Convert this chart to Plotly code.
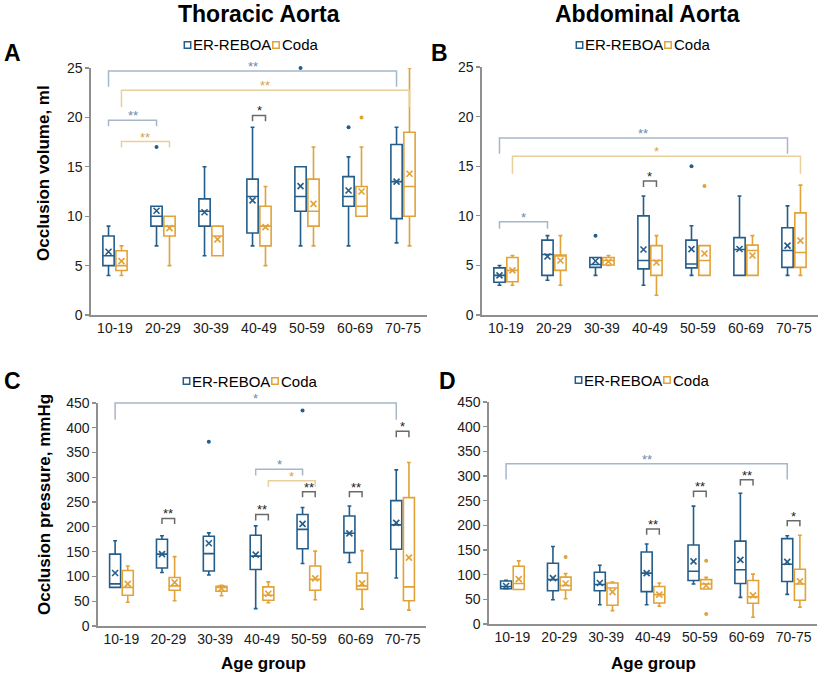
import plotly.graph_objects as go

groups = ["10-19", "20-29", "30-39", "40-49", "50-59", "60-69", "70-75"]
series_names = ["ER-REBOA", "Coda"]

# ---------------- Panel A: Thoracic aorta, occlusion volume (ml) ----------------
a_reboa_low = [4, 7, 6, 7, 7, 7, 7.3]
a_reboa_q1 = [5, 9, 9, 8.3, 10.5, 11, 9.75]
a_reboa_med = [6, 10, 10.5, 12, 12, 12, 13.5]
a_reboa_q3 = [8, 11, 11.75, 13.75, 15, 14, 17.25]
a_reboa_up = [9, 11, 15, 19, 15, 16, 19]
a_reboa_mean = [6.4, 10.55, 10.4, 11.6, 13.05, 12.6, 13.5]
a_reboa_out_grp = [1, 4, 5]
a_reboa_out_val = [17, 25, 19]

a_coda_low = [4, 5, 6, 5, 7, 10, 7]
a_coda_q1 = [4.5, 8, 6, 7, 9, 10, 10]
a_coda_med = [5, 9, 8, 9, 10.5, 11, 13]
a_coda_q3 = [6.5, 10, 9, 11, 13.75, 13, 18.5]
a_coda_up = [7, 10, 9, 13, 17, 17, 25]
a_coda_mean = [5.45, 8.8, 7.65, 8.9, 11.25, 12.5, 14.3]
a_coda_out_grp = [5]
a_coda_out_val = [20]

# ---------------- Panel B: Abdominal aorta, occlusion volume (ml) ----------------
b_reboa_low = [3, 3.5, 4, 3, 4, 4, 4]
b_reboa_q1 = [3.3, 4, 4.8, 4.65, 4.75, 4, 4.8]
b_reboa_med = [4, 6.1, 5.1, 5.5, 5.15, 6.6, 6.5]
b_reboa_q3 = [4.75, 7.55, 5.8, 10, 7.55, 7.8, 8.8]
b_reboa_up = [5, 8, 5.8, 12, 9, 12, 11]
b_reboa_mean = [4, 5.9, 5.45, 6.6, 6.64, 6.65, 7]
b_reboa_out_grp = [2, 4]
b_reboa_out_val = [8, 15]

b_coda_low = [3, 3, 5, 2, 4, 4, 4]
b_coda_q1 = [3.35, 4.5, 5.05, 4, 4, 4, 4.8]
b_coda_med = [4.5, 6, 5.5, 5.5, 5.5, 6.5, 6.3]
b_coda_q3 = [5.8, 6.05, 5.8, 7, 7, 7.05, 10.3]
b_coda_up = [6, 8, 6, 8, 7, 8, 13.1]
b_coda_mean = [4.5, 5.5, 5.4, 5.3, 6.2, 6.0, 7.5]
b_coda_out_grp = [4]
b_coda_out_val = [13]

# ---------------- Panel C: Thoracic aorta, occlusion pressure (mmHg) ----------------
c_reboa_low = [78, 108, 103, 35, 126, 128, 97]
c_reboa_q1 = [78, 117, 111, 114, 156, 148, 155]
c_reboa_med = [85, 145, 146, 141, 195, 187, 204]
c_reboa_q3 = [145, 175, 181, 183, 225, 222, 253]
c_reboa_up = [172, 182, 188, 202, 239, 242, 315]
c_reboa_mean = [107, 145, 167, 144, 206, 187, 208]
c_reboa_out_grp = [2, 4]
c_reboa_out_val = [372, 435]

c_coda_low = [48, 51, 61, 47, 53, 34, 32]
c_coda_q1 = [62, 72, 70, 52, 72, 74, 51]
c_coda_med = [78, 81, 78, 62, 94, 81, 79]
c_coda_q3 = [112, 98, 80, 79, 121, 107, 259]
c_coda_up = [121, 140, 82, 89, 151, 152, 330]
c_coda_mean = [85, 88, 76, 65, 96, 86, 138]
c_coda_out_grp = []
c_coda_out_val = []

# ---------------- Panel D: Abdominal aorta, occlusion pressure (mmHg) ----------------
d_reboa_low = [71, 49, 39, 39, 81, 54, 60]
d_reboa_q1 = [71.5, 67.5, 67.5, 65.5, 88, 82, 86]
d_reboa_med = [76, 90, 80, 103, 107, 110, 121]
d_reboa_q3 = [87, 123, 105, 146, 160, 168, 173]
d_reboa_up = [88.5, 157, 119, 162, 239, 265, 179]
d_reboa_mean = [77, 93, 83, 103, 127, 130, 126]
d_reboa_out_grp = []
d_reboa_out_val = []

d_coda_low = [70, 51, 27, 36, 71, 13.5, 34]
d_coda_q1 = [70, 69, 38, 42.5, 71, 42, 48]
d_coda_med = [82, 78, 73, 59.5, 81, 55, 81]
d_coda_q3 = [117, 95, 83, 76, 90, 88, 111]
d_coda_up = [128, 102, 85, 83, 94.5, 101, 180]
d_coda_mean = [91, 82, 65, 59.5, 78, 58, 86.5]
d_coda_out_grp = [1, 4, 4]
d_coda_out_val = [136, 128, 20]

# Significance brackets: (series, from group, to group, height, drop, label)
a_brackets = [("reboa", 0, 6, 24.7, 1.6, "**"), ("coda", 0, 6, 22.75, 1.7, "**"),
              ("reboa", 0, 1, 19.7, 0.6, "**"), ("coda", 0, 1, 17.55, 0.6, "**"),
              ("pair", 3, 3, 20.2, 0.6, "*")]
b_brackets = [("reboa", 0, 6, 17.85, 1.6, "**"), ("coda", 0, 6, 16.0, 1.75, "*"),
              ("reboa", 0, 1, 9.4, 0.7, "*"), ("pair", 3, 3, 13.5, 0.6, "*")]
c_brackets = [("reboa", 0, 6, 450, 34, "*"), ("reboa", 3, 4, 316.5, 13, "*"),
              ("coda", 3, 4, 293, 12, "*"), ("pair", 1, 1, 217, 11, "**"),
              ("pair", 3, 3, 225, 12, "**"), ("pair", 4, 4, 271, 11, "**"),
              ("pair", 5, 5, 271, 11, "**"), ("pair", 6, 6, 393, 12, "*")]
d_brackets = [("reboa", 0, 6, 325, 32, "**"), ("pair", 3, 3, 192.6, 11.6, "**"),
              ("pair", 4, 4, 269, 12, "**"), ("pair", 5, 5, 292.6, 11.6, "**"),
              ("pair", 6, 6, 209.5, 11.5, "*")]

BLUE = "#245d8a"
ORANGE = "#e2a238"
BR_COL = {"reboa": ("#a6b7c9", "#6e89a8"), "coda": ("#e9cf9c", "#d7a24a"), "pair": ("#6a6a6a", "#222222")}
FONT = "Liberation Sans, Arial, sans-serif"
OFF = 0.135
BW = 0.235
W, H = 825, 675

panels = [
    dict(name="A", ax="", ymax=25, dtick=5, xd=[0.1103, 0.5176], yd=[0.5333, 0.8993],
         reboa=(a_reboa_low, a_reboa_q1, a_reboa_med, a_reboa_q3, a_reboa_up, a_reboa_mean, a_reboa_out_grp, a_reboa_out_val),
         coda=(a_coda_low, a_coda_q1, a_coda_med, a_coda_q3, a_coda_up, a_coda_mean, a_coda_out_grp, a_coda_out_val),
         br=a_brackets),
    dict(name="B", ax="2", ymax=25, dtick=5, xd=[0.5842, 0.9915], yd=[0.5333, 0.9007],
         reboa=(b_reboa_low, b_reboa_q1, b_reboa_med, b_reboa_q3, b_reboa_up, b_reboa_mean, b_reboa_out_grp, b_reboa_out_val),
         coda=(b_coda_low, b_coda_q1, b_coda_med, b_coda_q3, b_coda_up, b_coda_mean, b_coda_out_grp, b_coda_out_val),
         br=b_brackets),
    dict(name="C", ax="3", ymax=450, dtick=50, xd=[0.1188, 0.5164], yd=[0.0726, 0.4030],
         reboa=(c_reboa_low, c_reboa_q1, c_reboa_med, c_reboa_q3, c_reboa_up, c_reboa_mean, c_reboa_out_grp, c_reboa_out_val),
         coda=(c_coda_low, c_coda_q1, c_coda_med, c_coda_q3, c_coda_up, c_coda_mean, c_coda_out_grp, c_coda_out_val),
         br=c_brackets),
    dict(name="D", ax="4", ymax=450, dtick=50, xd=[0.5927, 0.9903], yd=[0.0756, 0.4044],
         reboa=(d_reboa_low, d_reboa_q1, d_reboa_med, d_reboa_q3, d_reboa_up, d_reboa_mean, d_reboa_out_grp, d_reboa_out_val),
         coda=(d_coda_low, d_coda_q1, d_coda_med, d_coda_q3, d_coda_up, d_coda_mean, d_coda_out_grp, d_coda_out_val),
         br=d_brackets),
]

fig = go.Figure()
shapes = []
annotations = []
layout_axes = {}
idx = list(range(len(groups)))

for p in panels:
    xa, ya = "x" + p["ax"], "y" + p["ax"]
    for key, name, col, sign in (("reboa", series_names[0], BLUE, -1), ("coda", series_names[1], ORANGE, 1)):
        low, q1, med, q3, up, mean, og, ov = p[key]
        xs = [i + sign * OFF for i in idx]
        fig.add_trace(go.Box(
            x=xs, lowerfence=low, q1=q1, median=med, q3=q3, upperfence=up,
            name=name, width=BW, whiskerwidth=0.35, boxpoints=False,
            line=dict(color=col, width=1.6), fillcolor="rgba(255,255,255,0)",
            showlegend=False, xaxis=xa, yaxis=ya, hoverinfo="skip"))
        fig.add_trace(go.Scatter(
            x=xs, y=mean, mode="markers", showlegend=False, xaxis=xa, yaxis=ya,
            marker=dict(symbol="x-thin", size=6, line=dict(width=1.6, color=col), color=col),
            hoverinfo="skip"))
        if og:
            fig.add_trace(go.Scatter(
                x=[g + sign * OFF for g in og], y=ov, mode="markers", showlegend=False,
                xaxis=xa, yaxis=ya, cliponaxis=False,
                marker=dict(symbol="circle", size=4, color=col), hoverinfo="skip"))

    n = len(groups)
    xdom = lambda v: (v + 0.5) / n
    ymax = p["ymax"]
    xr, yr = xa + " domain", ya + " domain"
    for ser, g0, g1, h, drop, lab in p["br"]:
        lc, tc = BR_COL[ser]
        if ser == "pair":
            x0, x1 = g0 - OFF, g1 + OFF
        else:
            s = -1 if ser == "reboa" else 1
            x0, x1 = g0 + s * OFF, g1 + s * OFF
        path = "M{a},{b} L{a},{c} L{d},{c} L{d},{b}".format(
            a=xdom(x0), b=(h - drop) / ymax, c=h / ymax, d=xdom(x1))
        shapes.append(dict(type="path", path=path, xref=xr, yref=yr,
                           line=dict(color=lc, width=1.5)))
        annotations.append(dict(text=lab, x=xdom((x0 + x1) / 2), y=h / ymax, xref=xr, yref=yr,
                                xanchor="center", yanchor="bottom", yshift=-5, showarrow=False,
                                font=dict(size=13, color=tc, family=FONT)))

    layout_axes["xaxis" + p["ax"]] = dict(
        domain=p["xd"], anchor=ya, range=[-0.5, n - 0.5], tickmode="array", tickvals=idx,
        ticktext=groups, showline=True, linecolor="#8f8f8f", linewidth=1.6, ticks="",
        showgrid=False, zeroline=False, automargin=False,
        tickfont=dict(size=14, color="#1a1a1a", family=FONT))
    layout_axes["yaxis" + p["ax"]] = dict(
        domain=p["yd"], anchor=xa, range=[0, ymax], dtick=p["dtick"], tick0=0,
        showline=True, linecolor="#8f8f8f", linewidth=1.6, ticks="outside", ticklen=4,
        tickcolor="#8f8f8f", tickwidth=1.2, showgrid=False, zeroline=False, automargin=False,
        tickfont=dict(size=14, color="#1a1a1a", family=FONT))


def paper(px, py):
    return px / W, 1 - py / H


def add_text(text, px, py, size, angle=0, bold=True, xanchor="center"):
    x, y = paper(px, py)
    annotations.append(dict(text=("<b>%s</b>" % text) if bold else text, x=x, y=y,
                            xref="paper", yref="paper", xanchor=xanchor, yanchor="middle",
                            showarrow=False, textangle=angle,
                            font=dict(size=size, color="#000000", family=FONT)))


def add_legend(cx, cy):
    # two hollow-square keys followed by the series names
    for (dx_sq, dx_txt), name, col in zip(((-62.5, -59), (26, 29.5)), series_names, (BLUE, ORANGE)):
        x0, y0 = paper(cx + dx_sq - 3.2, cy + 3.2)
        x1, y1 = paper(cx + dx_sq + 3.2, cy - 3.2)
        shapes.append(dict(type="rect", xref="paper", yref="paper", x0=x0, y0=y0, x1=x1, y1=y1,
                           line=dict(color=col, width=1.5), fillcolor="rgba(0,0,0,0)"))
        add_text(name, cx + dx_txt, cy, 15, bold=False, xanchor="left")


add_text("Thoracic Aorta", 259, 14, 23)
add_text("Abdominal Aorta", 647, 14, 23)
for lab, px, py in (("A", 12, 53), ("B", 439, 53), ("C", 12, 381), ("D", 447, 381)):
    add_text(lab, px, py, 23)
for px, py in ((250, 45), (642, 45), (249, 381), (641, 380)):
    add_legend(px, py)
add_text("Occlusion volume, ml", 44, 173, 17, angle=-90)
add_text("Occlusion pressure, mmHg", 44, 505, 17, angle=-90)
add_text("Age group", 263, 663, 17)
add_text("Age group", 653, 663, 17)

fig.update_layout(
    width=W, height=H, margin=dict(l=0, r=0, t=0, b=0, autoexpand=False),
    paper_bgcolor="white", plot_bgcolor="white", boxmode="overlay",
    shapes=shapes, annotations=annotations, showlegend=False,
    font=dict(family=FONT), **layout_axes)

fig.write_html(
    "out.html",
    config={"displayModeBar": False, "staticPlot": True},
    post_script=("document.documentElement.style.margin='0';document.documentElement.style.overflow='hidden';"
                 "document.body.style.margin='0';document.body.style.overflow='hidden';"))
